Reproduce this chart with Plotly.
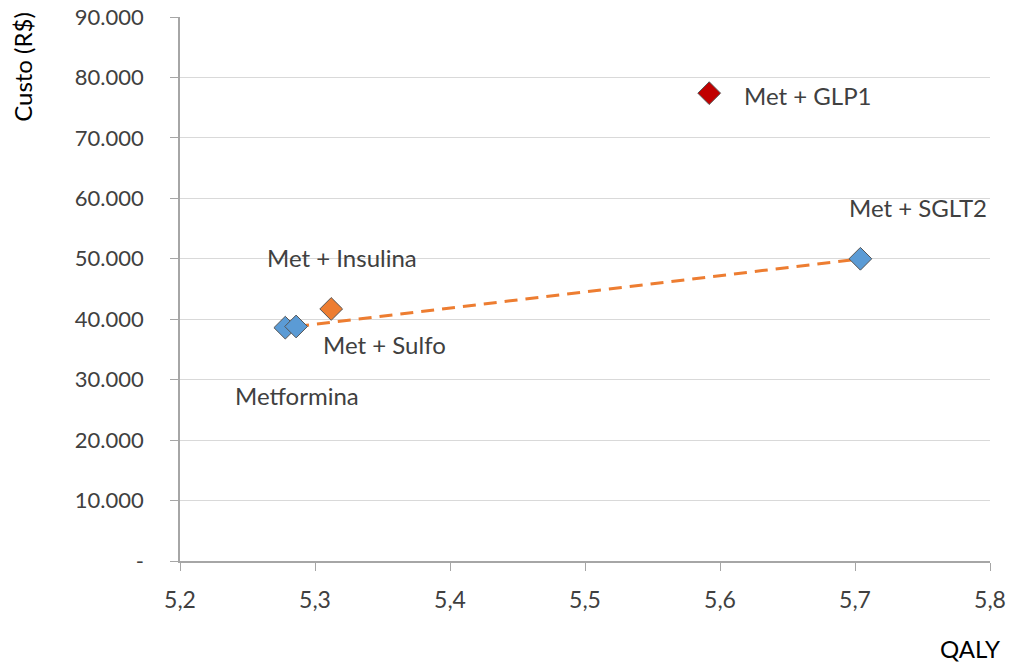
import plotly.graph_objects as go

# Data
names = ["Metformina", "Met + Sulfo", "Met + Insulina", "Met + GLP1", "Met + SGLT2"]
qaly = [5.278, 5.286, 5.312, 5.592, 5.704]
custo = [38600, 38800, 41700, 77400, 50000]
colors = ["#5B9BD5", "#5B9BD5", "#ED7D31", "#C00000", "#5B9BD5"]

frontier_names = ["Met + Sulfo", "Met + SGLT2"]

x_tickvals = [5.2, 5.3, 5.4, 5.5, 5.6, 5.7, 5.8]
x_ticktext = ["5,2", "5,3", "5,4", "5,5", "5,6", "5,7", "5,8"]
y_tickvals = [0, 10000, 20000, 30000, 40000, 50000, 60000, 70000, 80000, 90000]
y_ticktext = ["-", "10.000", "20.000", "30.000", "40.000", "50.000", "60.000", "70.000", "80.000", "90.000"]

# label offsets (pixels) and anchors
label_style = {
    "Metformina": dict(xshift=12, yshift=-68, xanchor="center"),
    "Met + Sulfo": dict(xshift=88, yshift=-18, xanchor="center"),
    "Met + Insulina": dict(xshift=11, yshift=51, xanchor="center"),
    "Met + GLP1": dict(xshift=33, yshift=-2, xanchor="left"),
    "Met + SGLT2": dict(xshift=58, yshift=51, xanchor="center"),
}

FONT = "Lato"
TXT = "#404040"

fx = [qaly[names.index(n)] for n in frontier_names]
fy = [custo[names.index(n)] for n in frontier_names]

fig = go.Figure()
fig.add_trace(go.Scatter(
    x=fx, y=fy, mode="lines",
    line=dict(color="#ED7D31", width=3, dash="13px,8px"),
    hoverinfo="skip", showlegend=False,
))
fig.add_trace(go.Scatter(
    x=qaly, y=custo, mode="markers",
    marker=dict(symbol="diamond", size=17.5, color=colors,
                line=dict(color="#555555", width=1)),
    text=names, showlegend=False,
))

for n, xv, yv in zip(names, qaly, custo):
    s = label_style[n]
    fig.add_annotation(x=xv, y=yv, xref="x", yref="y", text=n, showarrow=False,
                       xshift=s["xshift"], yshift=s["yshift"], xanchor=s["xanchor"],
                       yanchor="middle", font=dict(family=FONT, size=24, color=TXT))

fig.add_annotation(text="Custo (R$)", xref="paper", yref="paper", x=-0.194, y=1.013,
                   xanchor="center", yanchor="top", textangle=-90, showarrow=False,
                   font=dict(family=FONT, size=24, color="#000000"))
fig.add_annotation(text="QALY", xref="paper", yref="paper", x=0.975, y=-0.16,
                   xanchor="center", yanchor="middle", showarrow=False,
                   font=dict(family=FONT, size=24, color="#000000"))

fig.update_xaxes(range=[5.2, 5.8], tickvals=x_tickvals, ticktext=x_ticktext,
                 showgrid=False, zeroline=False, showline=True, linecolor="#a6a6a6",
                 linewidth=1.5, ticks="outside", ticklen=8, tickcolor="#a6a6a6",
                 ticklabelstandoff=10, automargin=False,
                 tickfont=dict(family=FONT, size=23, color=TXT))
fig.update_yaxes(range=[0, 90000], tickvals=y_tickvals, ticktext=y_ticktext,
                 showgrid=True, gridcolor="#d9d9d9", gridwidth=1, zeroline=False,
                 showline=True, linecolor="#a6a6a6", linewidth=1.5, ticks="outside",
                 ticklen=8, tickcolor="#a6a6a6", ticklabelstandoff=22, automargin=False,
                 tickfont=dict(family=FONT, size=22, color=TXT))

fig.update_layout(
    width=1013, height=666,
    margin=dict(l=180, r=23, t=17, b=105),
    plot_bgcolor="white", paper_bgcolor="white",
    hovermode="closest",
)

fig.write_html("out.html", config={"displayModeBar": False},
               post_script="document.body.style.margin='0';")
